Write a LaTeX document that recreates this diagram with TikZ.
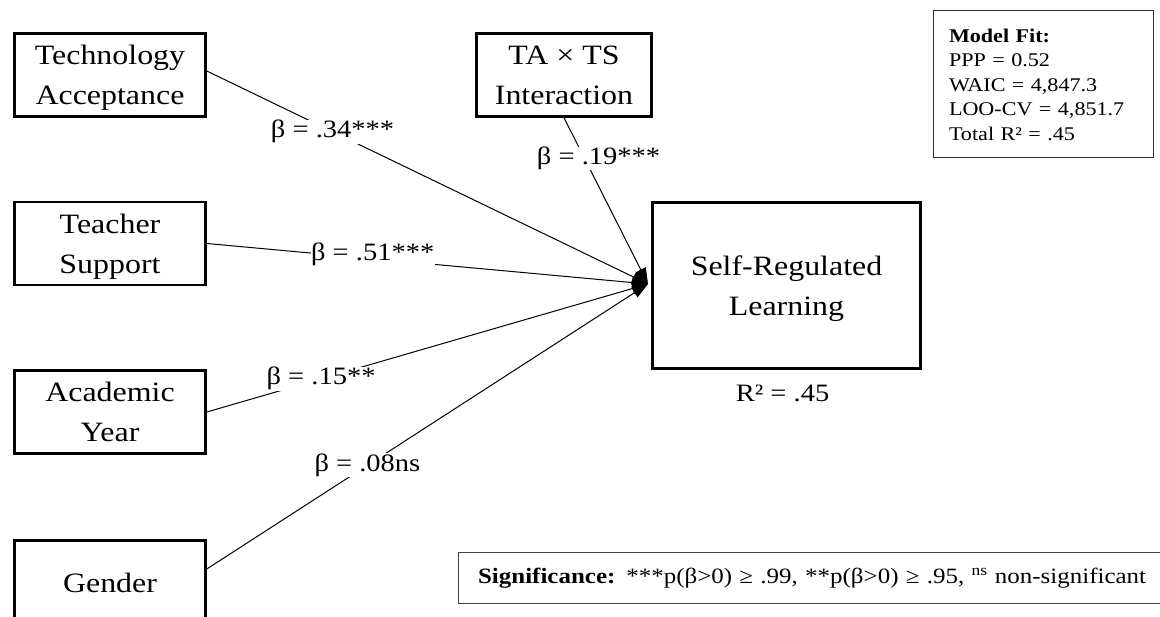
\documentclass[tikz,border=0pt]{standalone}
\usepackage{fontspec}
\setmainfont{Liberation Serif}[FakeStretch=1.14]
\usetikzlibrary{arrows.meta}
\newcommand\bxs{\rule[-6pt]{0pt}{32pt}}
\begin{document}
\begin{tikzpicture}[x=1pt,y=-1pt,
  box/.style={draw, line width=2.6pt, minimum width=191pt, minimum height=83pt,
    align=center, inner sep=0pt, font=\fontsize{28}{40}\selectfont},
  conn/.style={line width=1pt, -{Triangle[length=16pt,width=11pt]}},
  lab/.style={fill=white, inner sep=0.5pt, font=\fontsize{25}{28}\selectfont}]
\useasboundingbox (0,0) rectangle (1160,617);
\clip (0,0) rectangle (1160,617);

\node[box] (tech) at (110,75) {Technology\bxs\\Acceptance\bxs};
\node[box] (teach) at (110,243.5) {Teacher\bxs\\Support\bxs};
\node[box] (acad) at (110,412) {Academic\bxs\\Year\bxs};
\node[box] (gend) at (110,582) {Gender\bxs};
\node[box, minimum width=175pt] (inter) at (564,75) {TA × TS\bxs\\Interaction\bxs};
\node[box, line width=3pt, minimum width=268pt, minimum height=166pt] (srl) at (786.5,285.5) {Self-Regulated\bxs\\Learning\bxs};
\node[anchor=north, inner sep=0pt, font=\fontsize{25}{28}\selectfont] (r2) at ([xshift=-4pt,yshift=-15pt]srl.south) {R² = .45};

\coordinate (tip) at (648,284);

\draw[conn] ([yshift=4pt]tech.east) -- node[lab, pos=0.285] {β = .34***} (tip);
\draw[conn] (teach.east) -- node[lab, pos=0.376, yshift=4pt] {β = .51***} (tip);
\draw[conn] (acad.east) -- node[lab, pos=0.259] {β = .15**} (tip);
\draw[conn] ([yshift=13pt]gend.east) -- node[lab, pos=0.364] {β = .08ns} (tip);
\draw[conn] (inter.south) -- node[lab, pos=0.245, xshift=14pt] {β = .19***} (tip);

\node[draw=black!80, line width=1pt, anchor=north west, text width=188pt,
  inner xsep=16pt, minimum height=147pt, align=left,
  font=\fontsize{19.4}{24.5}\selectfont] (fit) at (932.5,10.5)
  {\textbf{Model Fit:}\\PPP = 0.52\\WAIC = 4,847.3\\LOO-CV = 4,851.7\\Total R² = .45};

\node[draw=black!75, line width=1.2pt, anchor=west, text width=690pt,
  inner xsep=20pt, minimum height=51pt, align=left,
  font=\fontsize{21.9}{26}\selectfont] (sig) at (457.5,578)
  {\textbf{Significance:} ***p(β>0) ≥ .99, **p(β>0) ≥ .95, \textsuperscript{ns} non-significant};
\end{tikzpicture}
\end{document}
